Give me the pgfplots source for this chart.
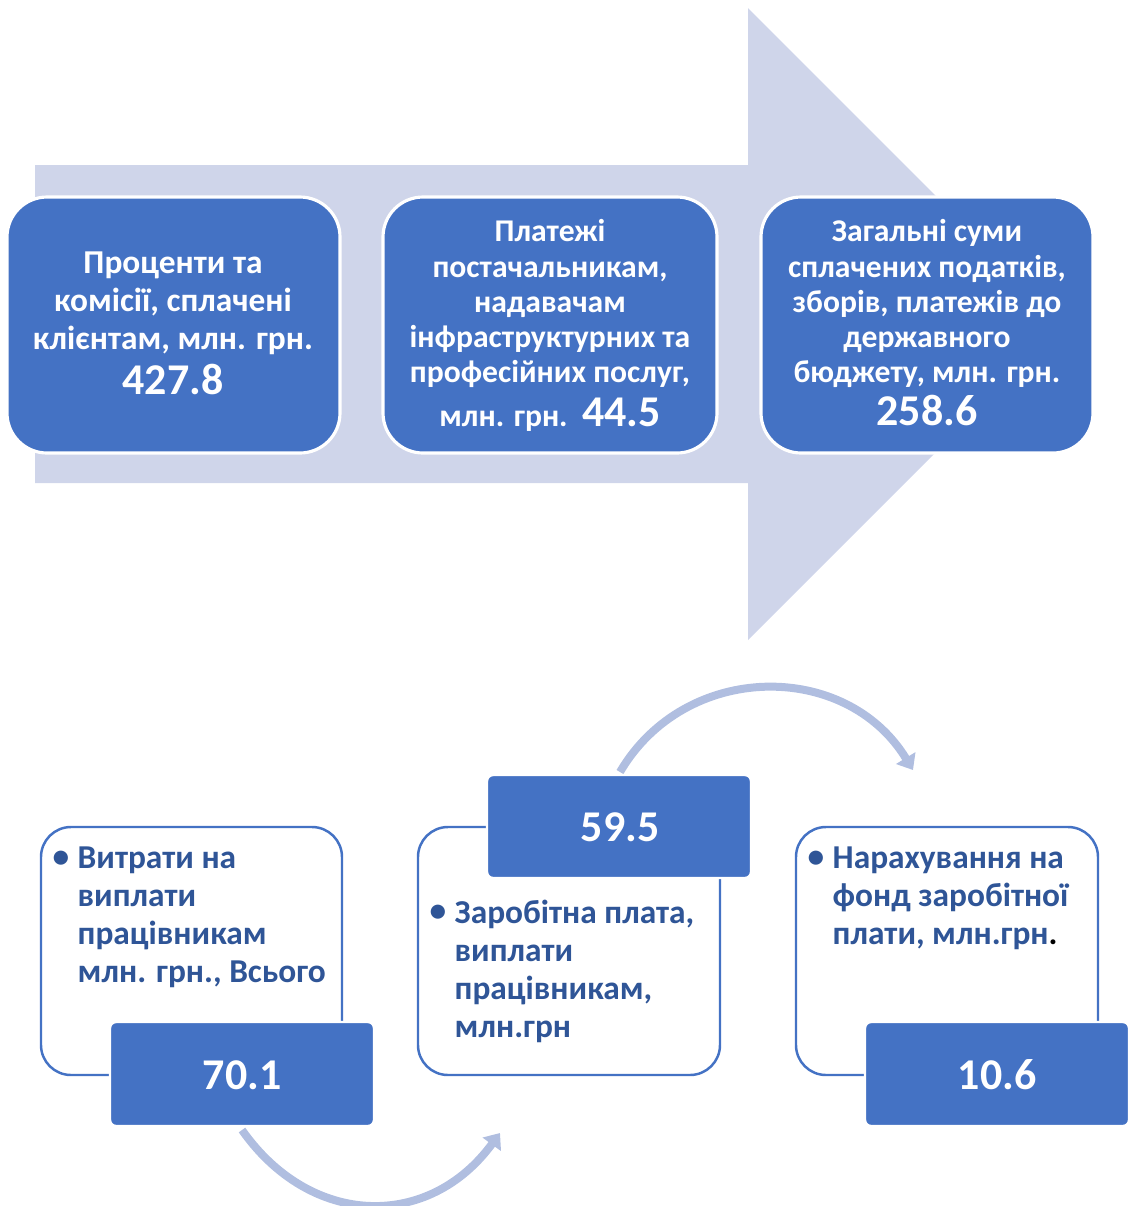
\documentclass[border=0pt]{standalone}
\usepackage{fontspec}
\setmainfont{Carlito}
\usepackage{pgfplots}
\pgfplotsset{compat=1.18}
\usetikzlibrary{arrows.meta}

\definecolor{boxblue}{HTML}{4472C4}
\definecolor{flowfill}{HTML}{CFD5EA}
\definecolor{curvecol}{HTML}{B0BEE0}
\definecolor{textblue}{HTML}{2F5597}

\begin{document}
\begin{tikzpicture}
\begin{axis}[
  width=11.29cm, height=12.06cm, scale only axis,
  xmin=0, xmax=1129, ymin=0, ymax=1206,
  y dir=reverse, hide axis, clip=false]

% background flow arrow
\fill[flowfill] (35,165) -- (748,165) -- (748,8) -- (1064,324)
  -- (748,640) -- (748,483) -- (35,483) -- cycle;

% upper blocks
\tikzset{topbox/.style={fill=boxblue, draw=white, line width=0.9pt, rounded corners=0.4cm}}
\draw[topbox] (7,197) rectangle (340,453);
\draw[topbox] (383,197) rectangle (717,453);
\draw[topbox] (761,197) rectangle (1093,453);

\tikzset{toptext/.style={text=white, align=center, inner sep=0pt,
  font=\bfseries\fontsize{9.5}{10.8}\selectfont}}
\node[toptext, anchor=north] at (173,251) {Проценти та\\комісії, сплачені\\клієнтам, млн. грн.\\[2.2pt]{\fontsize{12.5}{13}\selectfont 427.8}};
\node[toptext, anchor=north, font=\bfseries\fontsize{9}{10}\selectfont] at (550,219) {Платежі\\постачальникам,\\надавачам\\інфраструктурних та\\професійних послуг,\\[2.5pt]млн. грн.\ \ {\fontsize{12.5}{13}\selectfont 44.5}};
\node[toptext, anchor=north, font=\bfseries\fontsize{9}{10}\selectfont] at (927,219) {Загальні суми\\сплачених податків,\\зборів, платежів до\\державного\\бюджету, млн. грн.\\[1.2pt]{\fontsize{12.5}{13}\selectfont 258.6}};

% connecting curved arrows
\draw[curvecol, line width=0.08cm, -{Triangle[width=0.22cm,length=0.14cm]}]
  (242,1130) .. controls (311,1228) and (429,1230) .. (500,1133);
\draw[curvecol, line width=0.08cm, -{Triangle[width=0.22cm,length=0.14cm]}]
  (620,772) .. controls (685,661) and (846,660) .. (913,770);

% lower outlined blocks
\tikzset{outbox/.style={fill=white, draw=boxblue, line width=0.7pt, rounded corners=0.3cm}}
\draw[outbox] (41,827) rectangle (342,1075);
\draw[outbox] (418,827) rectangle (720,1075);
\draw[outbox] (796,827) rectangle (1098,1075);

% value tabs
\tikzset{tab/.style={fill=boxblue, draw=white, line width=0.7pt, rounded corners=0.06cm}}
\draw[tab] (110,1022) rectangle (374,1126);
\draw[tab] (487,775) rectangle (751,878);
\draw[tab] (865,1022) rectangle (1129,1126);

\tikzset{numtext/.style={text=white, inner sep=0pt, font=\bfseries\fontsize{12.5}{13}\selectfont}}
\node[numtext] at (242,1075) {70.1};
\node[numtext] at (620,827) {59.5};
\node[numtext] at (997,1075) {10.6};

% bullet texts
\tikzset{bultext/.style={text=textblue, align=left, inner sep=0pt, anchor=north west,
  font=\bfseries\fontsize{9.5}{10.8}\selectfont},
  bul/.style={text=textblue, inner sep=0pt, font=\bfseries\fontsize{9.5}{10.8}\selectfont}}
\node[bul] at (61,859) {•};
\node[bultext] at (77,846) {Витрати на\\виплати\\працівникам\\млн. грн., Всього};
\node[bul] at (438,913) {•};
\node[bultext] at (454,899) {Заробітна плата,\\виплати\\працівникам,\\млн.грн};
\node[bul] at (816,859) {•};
\node[bultext] at (832,846) {Нарахування на\\фонд заробітної\\плати, млн.грн\textcolor{black}{.}};

\end{axis}
\pgfresetboundingbox
\path (current axis.south west) rectangle (current axis.north east);
\end{tikzpicture}
\end{document}
